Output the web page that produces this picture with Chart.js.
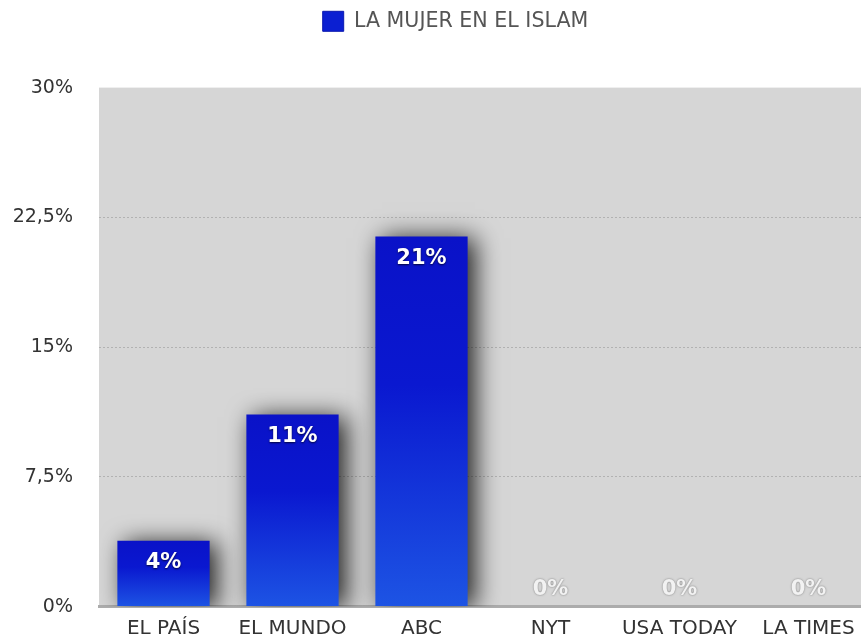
<!DOCTYPE html>
<html>
<head>
<meta charset="utf-8">
<script src="https://cdn.jsdelivr.net/npm/chart.js@4/dist/chart.umd.min.js"></script>
<style>
  html, body { margin: 0; padding: 0; background: #fff; overflow: hidden; }
  #wrap { width: 873px; height: 644px; }
</style>
</head>
<body>
<div id="wrap"><canvas id="chart"></canvas></div>
<script>
const categories = ["EL PAÍS", "EL MUNDO", "ABC", "NYT", "USA TODAY", "LA TIMES"];
const values = [3.8, 11.1, 21.4, 0, 0, 0];
const seriesName = "LA MUJER EN EL ISLAM";
const yTicks = [0, 7.5, 15, 22.5, 30];

const FONT = "'DejaVu Sans', Verdana, sans-serif";

function fmt(v) {
  return String(v).replace('.', ',') + '%';
}

// fondo gris del area del grafico
const plotBg = {
  id: 'plotBg',
  beforeDraw(chart) {
    const { ctx, chartArea: a } = chart;
    ctx.save();
    ctx.fillStyle = '#d6d6d6';
    ctx.fillRect(a.left, a.top, a.right - a.left, a.bottom - a.top);
    ctx.restore();
  }
};

// mover la leyenda un poco a la derecha
const legendShift = {
  id: 'legendShift',
  afterLayout(chart) {
    if (chart.legend) {
      chart.legend.left += 19;
      chart.legend.right += 19;
    }
  }
};

// sombra de las barras
const barShadow = {
  id: 'barShadow',
  beforeDatasetDraw(chart) {
    const ctx = chart.ctx;
    ctx.save();
    ctx.shadowColor = 'rgba(0,0,0,0.85)';
    ctx.shadowBlur = 24;
    ctx.shadowOffsetX = 7;
    ctx.shadowOffsetY = 2;
  },
  afterDatasetDraw(chart) {
    chart.ctx.restore();
  }
};

// etiquetas de valor
const valueLabels = {
  id: 'valueLabels',
  afterDatasetsDraw(chart) {
    const ctx = chart.ctx;
    const meta = chart.getDatasetMeta(0);
    ctx.save();
    ctx.textAlign = 'center';
    ctx.textBaseline = 'middle';
    ctx.font = 'bold 21px ' + FONT;
    meta.data.forEach((bar, i) => {
      const v = values[i];
      const txt = Math.round(v) + '%';
      if (v > 0) {
        ctx.shadowColor = 'rgba(0,0,0,0.7)';
        ctx.shadowBlur = 2;
        ctx.shadowOffsetY = 1;
        ctx.fillStyle = '#ffffff';
        ctx.fillText(txt, bar.x, bar.y + 22);
      } else {
        ctx.shadowColor = 'rgba(90,90,90,0.8)';
        ctx.shadowBlur = 2;
        ctx.shadowOffsetY = 0;
        ctx.fillStyle = '#f2f2f2';
        ctx.fillText(txt, bar.x, bar.y - 17);
      }
    });
    ctx.restore();
  }
};

const ctx = document.getElementById('chart').getContext('2d');

const chart = new Chart(ctx, {
  type: 'bar',
  data: {
    labels: categories,
    datasets: [{
      label: seriesName,
      data: values,
      backgroundColor: (c) => {
        const ch = c.chart;
        const a = ch.chartArea;
        if (!a || c.dataIndex === undefined) return '#0b1fd2';
        const top = ch.scales.y.getPixelForValue(values[c.dataIndex]);
        const g = ch.ctx.createLinearGradient(0, top, 0, a.bottom);
        g.addColorStop(0, '#0a12c8');
        g.addColorStop(0.4, '#0a18d0');
        g.addColorStop(1, '#1d54e4');
        return g;
      },
      borderWidth: 0,
      categoryPercentage: 1,
      barPercentage: 0.715
    }]
  },
  options: {
    responsive: true,
    maintainAspectRatio: false,
    animation: false,
    layout: { padding: { left: 0, top: 0, right: 0, bottom: 0 } },
    plugins: {
      tooltip: { enabled: false },
      legend: {
        position: 'top',
        labels: {
          boxWidth: 21,
          boxHeight: 20,
          padding: 11,
          color: '#555',
          font: { family: FONT, size: 20.6 },
          generateLabels: () => [{
            text: seriesName,
            fillStyle: '#0b1fd2',
            strokeStyle: '#0a18b0',
            lineWidth: 1,
            fontColor: '#555',
            datasetIndex: 0
          }]
        }
      },
      // espacio vacio entre leyenda y grafico
      title: {
        display: true,
        text: ' ',
        weight: 500,
        font: { size: 10, lineHeight: 1.2 },
        padding: { top: 0, bottom: 34 }
      }
    },
    scales: {
      x: {
        grid: { display: false },
        border: { display: true, color: '#acacac', width: 3 },
        ticks: {
          color: '#333',
          font: { family: FONT, size: 20 },
          padding: 2,
          maxRotation: 0
        },
        afterFit(scale) { scale.height = 29; }
      },
      y: {
        min: 0,
        max: 30,
        afterBuildTicks(scale) {
          scale.ticks = yTicks.map(v => ({ value: v }));
        },
        grid: {
          color: (c) => (c.tick && (c.tick.value === 0 || c.tick.value === 30)) ? 'rgba(0,0,0,0)' : '#b2b2b2',
          lineWidth: 1,
          drawTicks: false
        },
        border: { display: false, dash: [2, 2] },
        ticks: {
          color: '#333',
          font: { family: FONT, size: 19 },
          padding: 26,
          callback: (v) => fmt(v)
        },
        afterFit(scale) { scale.width = 99; }
      }
    }
  },
  plugins: [plotBg, legendShift, barShadow, valueLabels]
});
</script>
</body>
</html>
